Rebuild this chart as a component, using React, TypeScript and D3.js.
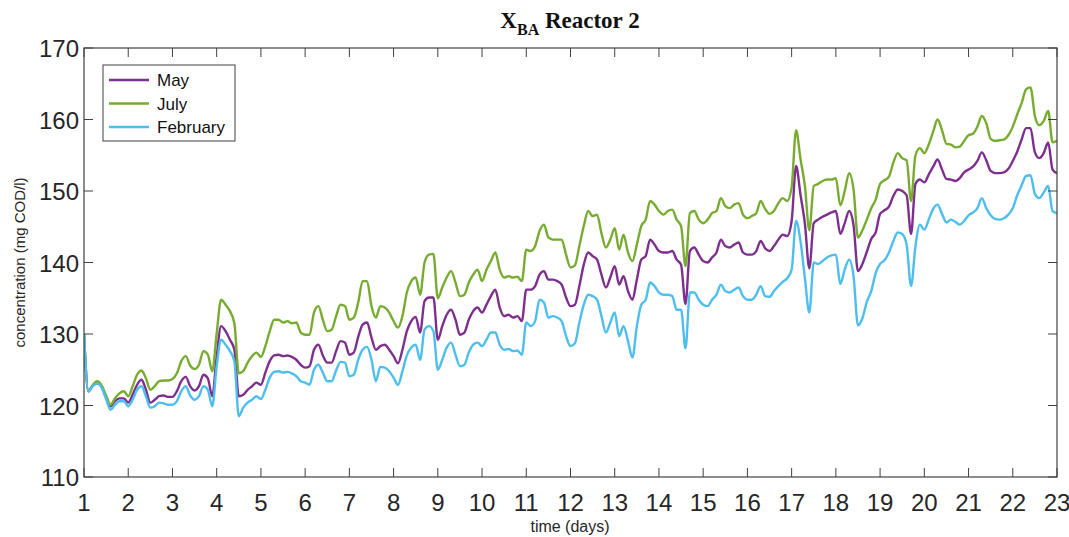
import React from 'react';
import * as d3 from 'd3';

// sample grid: every 0.1 day from day 1 to day 23
const days = d3.range(221).map(i => 1 + i / 10);

// X_BA concentration (mg COD/l), one row per day (n.0 ... n.9)
const july = [
  130, 122, 122.9, 123.4, 122.8, 121.4, 120.1, 121.0, 121.7, 122.0,
  121.3, 122.7, 124.3, 124.9, 123.8, 122.2, 122.7, 123.4, 123.5, 123.5,
  123.7, 124.5, 126.2, 126.9, 125.6, 125.1, 125.7, 127.6, 127.1, 124.8,
  130.1, 134.8, 134.1, 133.2, 131.5, 124.5, 124.8, 126.0, 126.9, 127.4,
  126.8, 128.3, 130.4, 132.0, 132.0, 131.6, 131.8, 131.5, 131.6, 130.2,
  129.9, 129.9, 133.0, 133.9, 132.0, 130.4, 130.6, 132.5, 134.1, 133.9,
  132.0, 132.3, 134.4, 137.4, 137.4, 133.9, 132.3, 133.9, 133.7, 133.0,
  131.8, 130.9, 132.5, 135.8, 137.4, 137.9, 135.5, 140.0, 141.1, 141.2,
  135.0, 136.5, 137.9, 138.8, 137.2, 135.3, 135.5, 137.2, 138.3, 139.0,
  137.4, 139.0, 140.2, 141.4, 139.0, 137.9, 138.1, 137.9, 138.0, 137.4,
  141.8, 141.6, 142.3, 144.4, 145.3, 143.5, 143.2, 143.2, 143.2, 141.1,
  139.3, 139.6, 142.3, 145.1, 147.2, 146.5, 146.7, 144.1, 142.1, 143.2,
  144.8, 141.8, 143.9, 141.4, 140.2, 142.5, 145.1, 146.0, 148.6, 148.1,
  147.2, 146.7, 147.2, 147.4, 146.0, 145.1, 139.5, 146.9, 147.2, 146.0,
  145.5, 146.0, 146.9, 147.2, 149.0, 147.9, 147.6, 148.1, 148.3, 146.7,
  146.2, 146.5, 146.9, 148.6, 147.5, 146.8, 147.2, 148.3, 149.0, 148.6,
  150.5, 158.5, 154.5, 150.7, 144.5, 150.7, 151.0, 151.4, 151.6, 151.6,
  151.8, 148.0, 150.0, 152.5, 150.2, 143.5, 144.5, 146.0, 147.6, 148.8,
  151.0, 151.5, 152.0, 154.0, 155.3, 154.6, 154.3, 148.6, 155.0, 156.0,
  155.3, 156.5, 158.3, 160.0, 158.5, 156.6, 156.5, 156.1, 156.2, 157.0,
  157.8, 158.0, 159.0, 160.5, 159.5, 157.3, 157.0, 157.1, 157.2, 157.8,
  159.0, 160.7, 162.3, 164.2, 164.5, 160.5, 159.2, 159.8, 161.2, 156.8,
  157.0,
];

const may = [
  130, 122, 122.8, 123.1, 122.6, 121.1, 119.9, 120.6, 121.0, 121.0,
  120.4, 121.5, 122.9, 123.6, 122.2, 120.4, 120.8, 121.3, 121.4, 121.2,
  121.2, 122.0, 123.4, 124.0, 122.7, 122.1, 122.7, 124.3, 123.8, 121.3,
  126.9, 131.1, 130.4, 129.2, 127.8, 121.3, 121.5, 122.2, 122.7, 123.2,
  122.9, 124.6, 126.2, 127.0, 127.1, 126.9, 127.0, 126.8, 126.4, 125.7,
  125.3, 125.5, 127.8, 128.5, 127.0, 126.0, 126.0, 127.6, 129.0, 128.8,
  127.1, 127.4, 129.6, 131.3, 131.6, 129.5, 127.8, 128.3, 128.5, 127.8,
  126.9, 125.9, 127.8, 130.4, 131.8, 132.4, 130.2, 134.6, 135.1, 135.1,
  129.2, 131.1, 132.7, 133.4, 132.0, 129.9, 130.2, 132.0, 133.2, 133.7,
  133.0, 134.1, 135.3, 136.2, 133.7, 132.5, 132.7, 132.3, 132.5, 131.8,
  136.2, 136.2, 136.7, 138.3, 138.8, 137.6, 137.6, 137.4, 136.9, 135.1,
  133.9, 134.1, 136.7, 139.7, 141.4, 140.9, 140.4, 138.3, 136.5, 137.9,
  139.5, 136.9, 138.1, 136.0, 134.8, 137.6, 140.4, 140.9, 143.2, 142.5,
  141.6, 141.4, 141.4, 141.6, 140.4, 139.7, 134.2, 141.6, 142.1, 141.1,
  140.2, 140.0, 140.7, 141.4, 143.2, 142.3, 142.1, 142.5, 142.8, 141.4,
  141.1, 141.1, 141.6, 143.0, 142.0, 141.6, 142.3, 143.2, 143.9, 143.7,
  145.8, 153.5, 149.5, 145.4, 139.2, 145.5, 146.0, 146.4, 146.7, 147.0,
  147.2, 144.0, 145.5, 147.2, 145.2, 138.8, 139.8, 141.5, 143.3, 144.2,
  146.8, 147.3, 147.8, 149.3, 150.2, 150.0, 149.4, 144.0, 151.0, 151.6,
  151.2, 152.3, 153.4, 154.4, 153.0, 151.7, 151.6, 151.4, 151.8, 152.6,
  153.0, 153.4, 154.2, 155.4, 154.3, 152.8, 152.5, 152.5, 152.6, 153.1,
  154.2, 155.5, 157.2, 158.8, 158.8, 155.4, 154.6, 155.3, 156.8, 153.0,
  152.5,
];

const february = [
  130, 122, 122.7, 123.1, 122.5, 120.9, 119.4, 120.1, 120.6, 120.6,
  119.9, 120.8, 122.2, 122.7, 121.3, 119.7, 119.9, 120.4, 120.3, 120.1,
  120.1, 120.6, 122.0, 122.7, 121.4, 120.8, 121.3, 122.7, 122.2, 119.9,
  125.5, 129.2, 128.5, 127.6, 126.2, 118.5, 119.7, 120.4, 120.8, 121.3,
  120.9, 122.2, 123.9, 124.7, 124.8, 124.6, 124.7, 124.5, 124.1, 123.4,
  123.2, 122.9, 125.0, 125.7, 124.6, 123.4, 123.4, 124.9, 126.1, 126.0,
  124.1, 124.3, 126.4, 127.8, 128.2, 126.4, 123.4, 125.4, 125.3, 124.8,
  123.9, 122.9, 124.8, 127.0, 128.1, 128.5, 126.4, 130.6, 131.1, 130.4,
  125.0, 126.4, 128.1, 128.8, 127.1, 125.5, 125.7, 127.4, 128.5, 128.8,
  128.3, 129.2, 130.2, 130.2, 128.5, 127.8, 127.9, 127.6, 127.7, 127.1,
  131.6, 131.1, 131.8, 134.8, 134.4, 132.3, 132.5, 132.3, 131.8, 129.7,
  128.3, 128.7, 131.6, 134.1, 135.5, 135.3, 134.8, 132.5, 130.2, 131.6,
  133.0, 129.7, 131.1, 129.0, 126.7, 131.1, 134.1, 134.8, 137.2, 136.7,
  135.8, 135.5, 135.5, 135.3, 133.4, 133.4, 128.0, 135.8, 135.8, 134.8,
  134.1, 133.9, 134.8, 135.5, 136.9, 136.0, 135.8, 136.2, 136.5, 135.3,
  134.8, 134.8, 135.5, 136.7, 135.3, 135.2, 136.0, 136.7, 137.3, 137.8,
  139.0, 145.8, 143.0, 137.8, 133.0, 140.0, 139.8, 140.2, 140.7, 141.0,
  141.1, 137.0, 139.0, 140.4, 138.1, 131.2, 132.2, 134.5, 136.0, 138.5,
  139.8, 140.3, 141.4, 143.0, 144.2, 144.0, 142.5, 136.7, 142.3, 145.3,
  144.6, 146.0, 147.5, 148.1, 146.8, 145.6, 146.0, 145.7, 145.3, 145.8,
  146.6, 147.0, 147.6, 149.0, 147.6, 146.6, 146.1, 146.0, 146.2, 146.7,
  147.6, 149.4, 150.8, 152.1, 152.2, 149.6, 149.0, 149.8, 150.7, 147.2,
  146.9,
];

const xTicks = d3.range(1, 24);
const yTicks = [110, 120, 130, 140, 150, 160, 170];

const series = [
  { name: 'May', values: may, color: '#7E2F8E' },
  { name: 'July', values: july, color: '#77AC30' },
  { name: 'February', values: february, color: '#4DBEEE' },
];

const W = 1069;
const H = 537;
const margin = { top: 48, right: 12, bottom: 60, left: 84 };
const axisColor = '#404040';
const font = 'Arial, "Liberation Sans", Helvetica, sans-serif';

export default function App() {
  const x = d3.scaleLinear().domain([1, 23]).range([margin.left, W - margin.right]);
  const y = d3.scaleLinear().domain([110, 170]).range([H - margin.bottom, margin.top]);
  const [x0, x1] = x.range();
  const [yb, yt] = y.range();

  // smooth between samples, without overshooting the spikes
  const line = d3
    .line<number>()
    .x((_, i) => x(days[i]))
    .y(d => y(d))
    .curve(d3.curveMonotoneX);

  const tickLen = 9;

  return (
    <svg
      width={W}
      height={H}
      style={{ position: 'absolute', left: 0, top: 0, background: '#fff' }}
      fontFamily={font}
    >
      <defs>
        <clipPath id="plot">
          <rect x={x0} y={yt} width={x1 - x0} height={yb - yt} />
        </clipPath>
      </defs>

      {/* title */}
      <text x={570} y={28} textAnchor="middle" fontFamily='"Times New Roman", "Liberation Serif", serif' fontWeight="bold" fontSize={23} fill="#111">
        X<tspan fontSize={16} dy={7}>BA</tspan>
        <tspan dy={-7}> Reactor 2</tspan>
      </text>

      {/* lines */}
      <g clipPath="url(#plot)">
        {series.map(s => (
          <path
            key={s.name}
            d={line(s.values) ?? ''}
            fill="none"
            stroke={s.color}
            strokeWidth={2.4}
            strokeLinejoin="round"
          />
        ))}
      </g>

      {/* axes box */}
      <rect x={x0} y={yt} width={x1 - x0} height={yb - yt} fill="none" stroke={axisColor} strokeWidth={1.2} />

      {/* x ticks */}
      {xTicks.map(t => (
        <g key={'x' + t}>
          <line x1={x(t)} x2={x(t)} y1={yb} y2={yb - tickLen} stroke={axisColor} />
          <line x1={x(t)} x2={x(t)} y1={yt} y2={yt + tickLen} stroke={axisColor} />
          <text x={x(t)} y={yb + 34} textAnchor="middle" fontSize={24} fill="#262626">
            {t}
          </text>
        </g>
      ))}

      {/* y ticks */}
      {yTicks.map(t => (
        <g key={'y' + t}>
          <line x1={x0} x2={x0 + tickLen} y1={y(t)} y2={y(t)} stroke={axisColor} />
          <line x1={x1} x2={x1 - tickLen} y1={y(t)} y2={y(t)} stroke={axisColor} />
          <text x={x0 - 5} y={y(t) + 9} textAnchor="end" fontSize={24} fill="#262626">
            {t}
          </text>
        </g>
      ))}

      {/* axis labels */}
      <text x={570} y={532} textAnchor="middle" fontSize={16} fill="#262626">
        time (days)
      </text>
      <text
        transform={`translate(25,${(yt + yb) / 2}) rotate(-90)`}
        textAnchor="middle"
        fontSize={15}
        fill="#262626"
      >
        concentration (mg COD/l)
      </text>

      {/* legend */}
      <g>
        <rect x={103} y={65} width={132} height={76} fill="#fff" stroke={axisColor} strokeWidth={1} />
        {series.map((s, i) => (
          <g key={'lg' + s.name} transform={`translate(0,${80 + i * 23.5})`}>
            <line x1={109} x2={149} y1={0} y2={0} stroke={s.color} strokeWidth={2.4} />
            <text x={157} y={6} fontSize={17} fill="#111">
              {s.name}
            </text>
          </g>
        ))}
      </g>
    </svg>
  );
}
